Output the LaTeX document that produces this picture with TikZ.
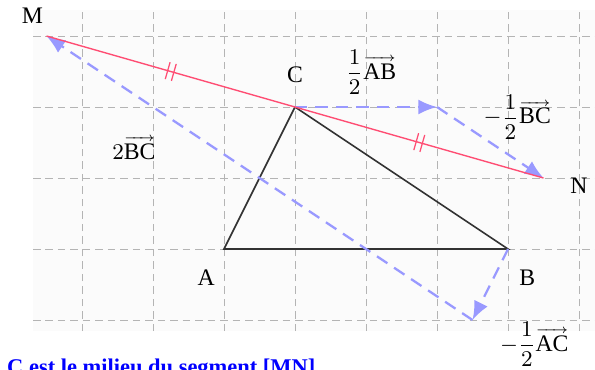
\documentclass[tikz,border=0pt]{standalone}
\usepackage{fontspec}
\setmainfont{Liberation Serif}
\usepackage{amsmath}
\usetikzlibrary{arrows.meta}
\definecolor{gridgray}{HTML}{B4B4B4}
\definecolor{vecblue}{HTML}{9999FF}
\definecolor{mnred}{HTML}{FF4D73}
\definecolor{tri}{HTML}{333333}
\definecolor{bgpanel}{HTML}{FBFBFB}
\newcommand{\myhalf}{\displaystyle\frac{1}{2}}
\makeatletter
\newcommand{\myvec}[1]{\mathord{\vbox{\m@th\ialign{##\crcr
  \rightarrowfill@\scriptscriptstyle\crcr
  \noalign{\kern0.6pt\nointerlineskip}
  $\m@th\hfil\displaystyle\mathrm{#1}\hfil$\crcr}}}}
\makeatother
\begin{document}
\begin{tikzpicture}[x=1cm,y=1cm,
  gridline/.style={gridgray, line width=0.4pt, dash pattern=on 3pt off 2pt},
  vecarrow/.style={vecblue, line width=0.9pt, dash pattern=on 5pt off 3.2pt, -{Latex[length=7.5pt,width=6pt]}},
  mnline/.style={mnred, line width=0.55pt},
  triline/.style={tri, line width=0.65pt},
  ptlabel/.style={font=\fontsize{9.5}{11}\selectfont, inner sep=0pt},
  veclabel/.style={font=\fontsize{9.5}{11}\selectfont, inner sep=0pt},
  tickbox/.style={midway, sloped, inner sep=0pt, minimum width=2pt, minimum height=6.5pt, draw=none},
  caption/.style={font=\fontsize{9}{11}\selectfont\bfseries, text=blue, inner sep=0pt, anchor=north west}]
\useasboundingbox (-3.155,-1.690) rectangle (5.225,3.507);
\fill[bgpanel] (-2.69,-1.155) rectangle (5.225,3.366);
% grid
\foreach \x in {-2,...,5} \draw[gridline] (\x,-1.155) -- (\x,3.366);
\foreach \y in {-1,...,3} \draw[gridline] (-2.69,\y) -- (5.225,\y);
% points
\coordinate (A) at (0,0);
\coordinate (B) at (4,0);
\coordinate (C) at (1,2);
\coordinate (M) at (-2.5,3);
\coordinate (N) at (4.5,1);
\coordinate (P) at (3,2);
\coordinate (D) at (3.5,-1);
% triangle
\draw[triline] (A) -- (B) -- (C) -- cycle;
% vectors
\draw[vecarrow] (C) -- (P);
\draw[vecarrow] (P) -- (N);
\draw[vecarrow] (B) -- (D);
\draw[vecarrow] (D) -- (M);
% segment MN with ticks
\draw[mnline] (M) -- (C) node[tickbox] (t1) {};
\draw[mnline] (C) -- (N) node[tickbox] (t2) {};
\draw[mnred, line width=0.5pt] (t1.north west) -- (t1.south west) (t1.north east) -- (t1.south east);
\draw[mnred, line width=0.5pt] (t2.north west) -- (t2.south west) (t2.north east) -- (t2.south east);
% labels
\node[ptlabel] (lM) at (-2.70,3.28) {M};
\node[ptlabel] (lC) at (1.0,2.46) {C};
\node[ptlabel] (lN) at (5.0,0.89) {N};
\node[ptlabel] (lA) at (-0.25,-0.41) {A};
\node[ptlabel] (lB) at (4.27,-0.41) {B};
\node[veclabel] (lAB) at (2.07,2.49) {$\myhalf\myvec{AB}$};
\node[veclabel] (lBC) at (4.13,1.86) {$-\myhalf\myvec{BC}$};
\node[veclabel] (l2BC) at (-1.27,1.42) {$2\myvec{BC}$};
\node[veclabel] (lAC) at (4.37,-1.34) {$-\myhalf\myvec{AC}$};
\node[caption] (cap) at (-3.06,-1.535) {C est le milieu du segment [MN]};
\end{tikzpicture}
\end{document}
